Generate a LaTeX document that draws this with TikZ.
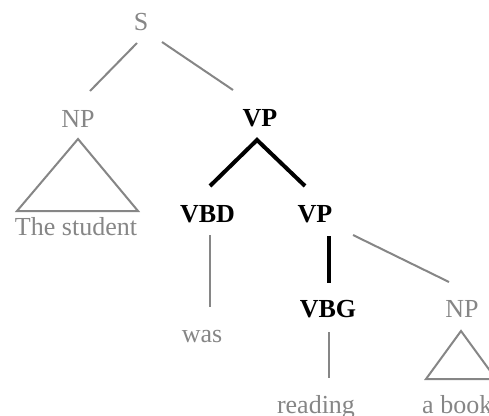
\documentclass[tikz,border=0pt]{standalone}
\usepackage{fontspec}
\setmainfont{Liberation Serif}
\definecolor{tgray}{RGB}{134,134,134}
\begin{document}
\begin{tikzpicture}[x=1pt,y=-1pt,
  lbl/.style={anchor=base,inner sep=0pt,font=\fontsize{26}{30}\selectfont},
  dim/.style={lbl,text=tgray},
  hl/.style={lbl,font=\fontsize{26}{30}\selectfont\bfseries,text=black},
  edge/.style={draw=tgray,line width=2pt},
  hedge/.style={draw=black,line width=4pt,line join=miter},
  tri/.style={draw=tgray,line width=2pt,line join=miter}]
\useasboundingbox (0,0) rectangle (489,415);
% labels
\node[dim] (S) at (141,30) {S};
\node[dim] (NP1) at (78,127) {NP};
\node[hl] (VP1) at (260,126) {VP};
\node[hl] (VBD) at (207.5,222) {VBD};
\node[hl] (VP2) at (315,222) {VP};
\node[hl] (VBG) at (328,317) {VBG};
\node[dim] (NP2) at (462,317) {NP};
\node[dim] (student) at (76,235) {The student};
\node[dim] (was) at (202,342) {was};
\node[dim] (reading) at (316,413) {reading};
\node[dim,anchor=base west] (book) at (422,413) {a book};
% connector end points
\coordinate (s1) at (137,43);  \coordinate (np1t) at (90,91);
\coordinate (s2) at (162,42);  \coordinate (vp1t) at (233,90);
\coordinate (vp1b) at (257,140);
\coordinate (vbdt) at (210,186); \coordinate (vp2t) at (305,186);
\coordinate (vbdb) at (210,235); \coordinate (wast) at (210,307);
\coordinate (vp2b) at (329,236); \coordinate (vbgt) at (329,283);
\coordinate (vp2r) at (353,235); \coordinate (np2t) at (449,282);
\coordinate (vbgb) at (329,332); \coordinate (readt) at (329,378);
% edges
\draw[edge] (s1) -- (np1t);
\draw[edge] (s2) -- (vp1t);
\draw[hedge] (vbdt) -- (vp1b) -- (vp2t);
\draw[edge] (vbdb) -- (wast);
\draw[hedge] (vp2b) -- (vbgt);
\draw[edge] (vp2r) -- (np2t);
\draw[edge] (vbgb) -- (readt);
% triangles
\draw[tri] (78,139) -- (138,211) -- (17,211) -- cycle;
\draw[tri] (461,331) -- (496,379) -- (426,379) -- cycle;
\end{tikzpicture}
\end{document}
